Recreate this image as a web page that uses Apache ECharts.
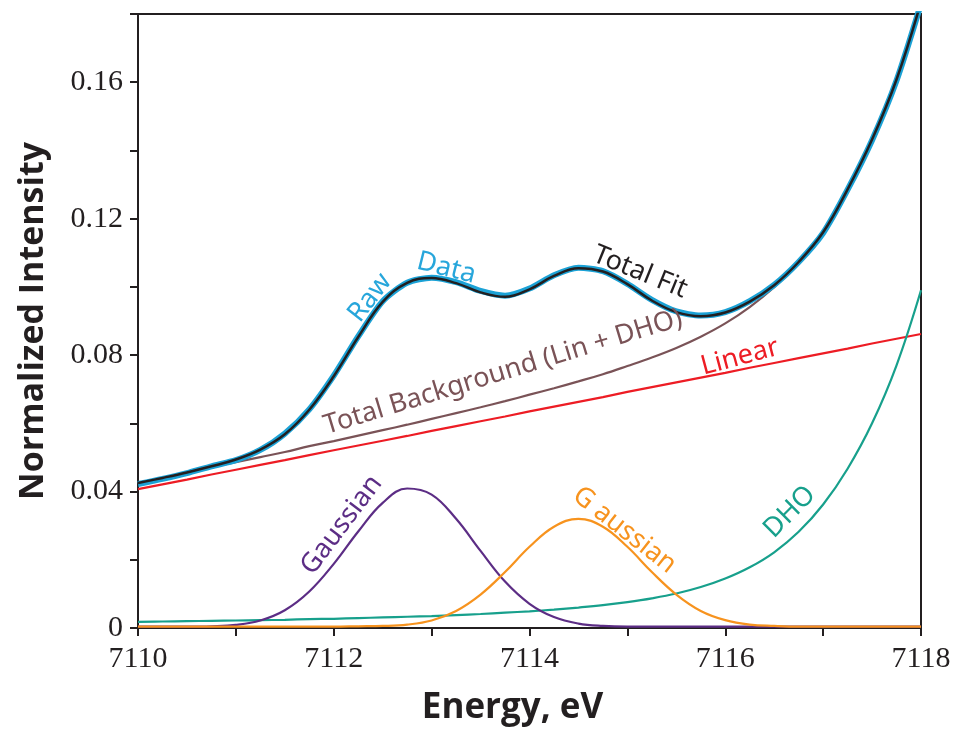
<!DOCTYPE html>
<html>
<head>
<meta charset="utf-8">
<script src="https://cdn.jsdelivr.net/npm/echarts@6/dist/echarts.min.js"></script>
<style>
  html, body { margin: 0; padding: 0; background: #fff; }
  #chart { width: 957px; height: 739px; }
</style>
</head>
<body>
<div id="chart"></div>
<script>
// energy grid, eV
const energy = [7110, 7110.25, 7110.5, 7110.75, 7111, 7111.25, 7111.5, 7111.75, 7112, 7112.25, 7112.5,
  7112.75, 7113, 7113.25, 7113.5, 7113.75, 7114, 7114.25, 7114.5, 7114.75, 7115, 7115.25, 7115.5,
  7115.75, 7116, 7116.25, 7116.5, 7116.75, 7117, 7117.25, 7117.5, 7117.75, 7118];

const rawData = [0.0422, 0.0437, 0.0454, 0.0474, 0.0492, 0.0522, 0.0570, 0.0641, 0.0740, 0.0855, 0.0958,
  0.1012, 0.1027, 0.1014, 0.0988, 0.0974, 0.0995, 0.1034, 0.1056, 0.1046, 0.1009, 0.0962, 0.0928,
  0.0916, 0.0926, 0.0958, 0.1006, 0.1073, 0.1158, 0.1285, 0.1430, 0.1605, 0.1830];

const totalFit = [0.0425, 0.0440, 0.0456, 0.0474, 0.0494, 0.0523, 0.0568, 0.0640, 0.0738, 0.0853, 0.0956,
  0.1012, 0.1026, 0.1011, 0.0984, 0.0971, 0.0993, 0.1032, 0.1055, 0.1045, 0.1008, 0.0960, 0.0926,
  0.0914, 0.0925, 0.0957, 0.1005, 0.1073, 0.1160, 0.1286, 0.1432, 0.1608, 0.1835];

const totalBackground = [0.0425, 0.0440, 0.0455, 0.0471, 0.0486, 0.0501, 0.0516, 0.0533, 0.0548, 0.0564, 0.0580,
  0.0596, 0.0613, 0.0630, 0.0647, 0.0665, 0.0684, 0.0703, 0.0723, 0.0744, 0.0768, 0.0793, 0.0821,
  0.0854, 0.0893, 0.0941, 0.0999, 0.1070, null, null, null, null, null];

const linear = [0.0407, 0.0421, 0.0435, 0.0450, 0.0464, 0.0478, 0.0492, 0.0507, 0.0521, 0.0535, 0.0549,
  0.0563, 0.0578, 0.0592, 0.0606, 0.0620, 0.0635, 0.0649, 0.0663, 0.0677, 0.0692, 0.0706, 0.0720,
  0.0734, 0.0748, 0.0763, 0.0777, 0.0791, 0.0805, 0.0819, 0.0834, 0.0848, 0.0862];

const dho = [0.0018, 0.0019, 0.0020, 0.0021, 0.0022, 0.0023, 0.0024, 0.0026, 0.0027, 0.0029, 0.0031,
  0.0033, 0.0035, 0.0038, 0.0041, 0.0045, 0.0049, 0.0054, 0.0060, 0.0067, 0.0076, 0.0087, 0.0101,
  0.0120, 0.0145, 0.0178, 0.0222, 0.0282, 0.0362, 0.0467, 0.0600, 0.0770, 0.0990];

const gaussian1 = [0.0004, 0.0004, 0.0004, 0.0005, 0.0009, 0.0022, 0.0052, 0.0107, 0.0188, 0.0283, 0.0367,
  0.0409, 0.0391, 0.0320, 0.0226, 0.0136, 0.0071, 0.0032, 0.0013, 0.0006, 0.0004, 0.0004, 0.0004,
  0.0004, 0.0004, 0.0004, 0.0004, 0.0004, 0.0004, 0.0004, 0.0004, 0.0004, 0.0004];

const gaussian2 = [0.0004, 0.0004, 0.0004, 0.0004, 0.0004, 0.0004, 0.0004, 0.0004, 0.0004, 0.0005, 0.0006,
  0.0010, 0.0022, 0.0050, 0.0098, 0.0164, 0.0238, 0.0297, 0.0320, 0.0297, 0.0238, 0.0164, 0.0098,
  0.0050, 0.0023, 0.0010, 0.0006, 0.0004, 0.0004, 0.0004, 0.0004, 0.0004, 0.0004];

// curve labels: [text, energy, intensity, rotation deg, colour]
const labels = [
  ["Raw", 7112.37, 0.0968, 52, "#27a6db"],
  ["Data", 7113.15, 0.1055, -14, "#27a6db"],
  ["Total Fit", 7115.13, 0.1043, -22, "#231f20"],
  ["Total Background (Lin + DHO)", 7113.73, 0.0750, 17, "#7a5357"],
  ["Linear", 7116.15, 0.0794, 15, "#ed1c24"],
  ["Gaussian", 7112.08, 0.0302, 53, "#5c2d85"],
  ["G aussian", 7114.97, 0.0287, -38, "#f7931e"],
  ["DHO", 7116.66, 0.0340, 45, "#17a08c"],
];

const pair = (ys) => energy.map((e, i) => [e, ys[i]]);
const ink = "#231f20";

const chart = echarts.init(document.getElementById("chart"));

const line = (name, ys, color, width, z, smooth) => ({
  name, type: "line", data: pair(ys), showSymbol: false, smooth: smooth,
  connectNulls: false, z: z, clip: true,
  lineStyle: { color, width }, emphasis: { disabled: true },
});

chart.setOption({
  animation: false,
  backgroundColor: "#fff",
  grid: {
    left: 138, right: 36, top: 14, bottom: 111,
    show: true, borderColor: ink, borderWidth: 2, backgroundColor: "transparent",
  },
  xAxis: {
    type: "value", min: 7110, max: 7118, interval: 1,
    axisLine: { show: true, lineStyle: { color: ink, width: 2 } },
    axisTick: { show: true, inside: false, length: 8, lineStyle: { color: ink, width: 2 } },
    splitLine: { show: false },
    axisLabel: {
      margin: 16, color: ink, fontFamily: "Liberation Serif", fontSize: 30,
      formatter: (v) => (v % 2 === 0 ? String(v) : ""),
    },
    name: "Energy, eV", nameLocation: "middle", nameGap: 63,
    nameTextStyle: { fontFamily: "Open Sans", fontWeight: "bold", fontSize: 35, color: ink, padding: [0, 34, 0, 0] },
  },
  yAxis: {
    type: "value", min: 0, max: 0.18, interval: 0.02,
    axisLine: { show: true, lineStyle: { color: ink, width: 2 } },
    axisTick: { show: true, inside: false, length: 8, lineStyle: { color: ink, width: 2 } },
    splitLine: { show: false },
    axisLabel: {
      margin: 15, color: ink, fontFamily: "Liberation Serif", fontSize: 30,
      formatter: (v) => {
        const k = Math.round(v * 100);
        if (k % 4 !== 0 || k > 16) return "";
        return k === 0 ? "0" : v.toFixed(2);
      },
    },
    name: "Normalized Intensity", nameLocation: "middle", nameGap: 88,
    nameTextStyle: { fontFamily: "Open Sans", fontWeight: "bold", fontSize: 34, color: ink },
  },
  series: [
    line("Linear", linear, "#ed1c24", 2.2, 3, false),
    line("Total Background", totalBackground, "#7a5357", 2.2, 4, 0.4),
    line("DHO", dho, "#17a08c", 2.2, 3, 0.4),
    line("Gaussian 1", gaussian1, "#5c2d85", 2.2, 3, 0.4),
    line("Gaussian 2", gaussian2, "#f7931e", 2.2, 3, 0.4),
    line("Raw Data", rawData, "#1ba2d6", 6, 5, 0.25),
    line("Total Fit", totalFit, ink, 2.5, 6, 0.4),
  ],
});

chart.setOption({
  graphic: labels.map(([text, e, v, rot, color]) => {
    const [px, py] = chart.convertToPixel({ gridIndex: 0 }, [e, v]);
    return {
      type: "text", x: px, y: py, rotation: (rot * Math.PI) / 180, z: 10,
      style: {
        text, fill: color, fontFamily: "Noto Sans", fontSize: 27,
        align: "center", verticalAlign: "middle",
      },
    };
  }),
});
</script>
</body>
</html>
